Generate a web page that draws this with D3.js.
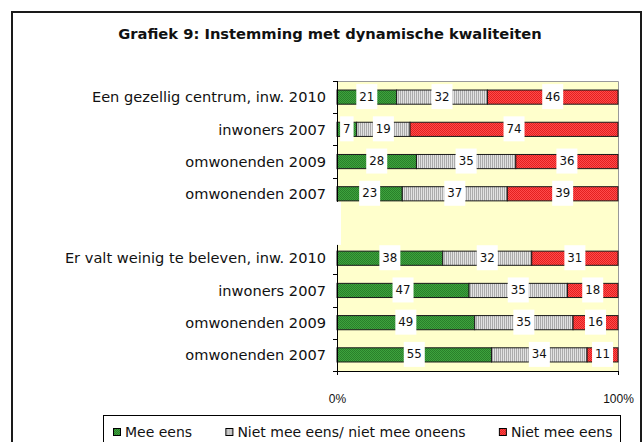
<!DOCTYPE html>
<html>
<head>
<meta charset="utf-8">
<script src="https://cdn.jsdelivr.net/npm/d3@7"></script>
<style>
  html, body { margin: 0; padding: 0; background: #fff; }
  svg { display: block; }
</style>
</head>
<body>
<svg id="chart" width="644" height="442"></svg>
<script>
const categories = [
  "Een gezellig centrum, inw. 2010",
  "inwoners 2007",
  "omwonenden 2009",
  "omwonenden 2007",
  "",
  "Er valt weinig te beleven, inw. 2010",
  "inwoners 2007",
  "omwonenden 2009",
  "omwonenden 2007"
];
const meeEens     = [21, 7, 28, 23, null, 38, 47, 49, 55];
const neutraal    = [32, 19, 35, 37, null, 32, 35, 35, 34];
const nietMeeEens = [46, 74, 36, 39, null, 31, 18, 16, 11];

const seriesNames = ["Mee eens", "Niet mee eens/ niet mee oneens", "Niet mee eens"];
const xTicks = [0, 1];

const width = 644;
const height = 442;
const plot = { left: 337, right: 618, top: 81, bottom: 371 };

const svg = d3.select("#chart");

// patterns for the hatched fills
const defs = svg.append("defs");
const pGreen = defs.append("pattern").attr("id", "pGreen")
  .attr("width", 2).attr("height", 2).attr("patternUnits", "userSpaceOnUse");
pGreen.append("rect").attr("width", 2).attr("height", 2).attr("fill", "#3da33d");
pGreen.append("rect").attr("width", 1).attr("height", 1).attr("fill", "#2a7f2a");
pGreen.append("rect").attr("x", 1).attr("y", 1).attr("width", 1).attr("height", 1).attr("fill", "#2a7f2a");

const pGray = defs.append("pattern").attr("id", "pGray")
  .attr("width", 2).attr("height", 2).attr("patternUnits", "userSpaceOnUse");
pGray.append("rect").attr("width", 2).attr("height", 2).attr("fill", "#e2e2e2");
pGray.append("rect").attr("width", 1).attr("height", 2).attr("fill", "#ababab");

const pRed = defs.append("pattern").attr("id", "pRed")
  .attr("width", 2).attr("height", 2).attr("patternUnits", "userSpaceOnUse");
pRed.append("rect").attr("width", 2).attr("height", 2).attr("fill", "#ff4a4a");
pRed.append("rect").attr("width", 1).attr("height", 1).attr("fill", "#e32020");
pRed.append("rect").attr("x", 1).attr("y", 1).attr("width", 1).attr("height", 1).attr("fill", "#e32020");

const fills = ["url(#pGreen)", "url(#pGray)", "url(#pRed)"];

// outer frame
svg.append("rect")
  .attr("x", 12).attr("y", 12).attr("width", 629).attr("height", 460)
  .attr("fill", "#fff").attr("stroke", "#1a1a1a").attr("stroke-width", 2);

// title
svg.append("text")
  .attr("x", 330).attr("y", 39)
  .attr("text-anchor", "middle")
  .attr("font-family", "DejaVu Sans").attr("font-weight", "bold")
  .attr("font-size", 14.7).attr("fill", "#111")
  .text("Grafiek 9: Instemming met dynamische kwaliteiten");

const idx = categories.map((_, i) => i);
const y = d3.scaleBand().domain(idx)
  .range([plot.top, plot.bottom])
  .paddingInner(0.56).paddingOuter(0.28);
const x = d3.scaleLinear().domain([0, 1]).range([plot.left, plot.right]);

// plot background
svg.append("rect")
  .attr("x", plot.left).attr("y", plot.top)
  .attr("width", plot.right - plot.left).attr("height", plot.bottom - plot.top)
  .attr("fill", "#ffffcc");
svg.append("path")
  .attr("d", `M${plot.left},${plot.top + 0.5}H${plot.right + 0.5}V${plot.bottom}`)
  .attr("fill", "none").attr("stroke", "#999").attr("stroke-width", 1);

const rows = idx.map(i => ({ i, a: meeEens[i], b: neutraal[i], c: nietMeeEens[i] }))
  .filter(d => d.a != null);
const stack = d3.stack().keys(["a", "b", "c"]).offset(d3.stackOffsetExpand);
const stacked = stack(rows);

const step = y.step();
svg.append("g").selectAll("g")
  .data(stacked)
  .join("g")
  .attr("fill", (d, k) => fills[k])
  .selectAll("rect")
  .data(d => d)
  .join("rect")
  .attr("x", d => x(d[0]))
  .attr("y", d => y(d.data.i))
  .attr("width", d => x(d[1]) - x(d[0]))
  .attr("height", y.bandwidth())
  .attr("stroke", "#1a1a1a").attr("stroke-width", 1);

// axes
const yAxis = svg.append("g")
  .attr("transform", `translate(${plot.left},0)`);
yAxis.append("line")
  .attr("x1", 0.5).attr("x2", 0.5).attr("y1", plot.top).attr("y2", plot.bottom + 4)
  .attr("stroke", "#000");
yAxis.selectAll("line.tick")
  .data(d3.range(categories.length + 1))
  .join("line").attr("class", "tick")
  .attr("x1", -4).attr("x2", 0.5)
  .attr("y1", k => Math.round(plot.top + k * step) + 0.5)
  .attr("y2", k => Math.round(plot.top + k * step) + 0.5)
  .attr("stroke", "#000");

svg.append("g").selectAll("text")
  .data(idx)
  .join("text")
  .attr("x", 326)
  .attr("y", i => y(i) + y.bandwidth() / 2)
  .attr("dy", "0.36em")
  .attr("text-anchor", "end")
  .attr("font-family", "DejaVu Sans").attr("font-size", 14.6).attr("fill", "#111")
  .text(i => categories[i]);

const xAxis = svg.append("g")
  .attr("transform", `translate(0,${plot.bottom})`)
  .call(d3.axisBottom(x).tickValues(xTicks).tickFormat(d3.format(".0%")).tickSize(4).tickPadding(19));
xAxis.select(".domain").attr("stroke", "#000");
xAxis.selectAll("text")
  .attr("font-family", "Liberation Sans").attr("font-size", 12).attr("fill", "#111");

// value labels with white boxes
const labelG = svg.append("g");
stacked.forEach(s => {
  s.forEach(d => {
    const raw = d.data[s.key];
    const cx = x((d[0] + d[1]) / 2);
    const cy = y(d.data.i) + y.bandwidth() / 2;
    const g = labelG.append("g");
    const box = g.append("rect").attr("fill", "#fff");
    const t = g.append("text")
      .attr("x", cx).attr("y", cy).attr("dy", "0.3em")
      .attr("text-anchor", "middle")
      .attr("font-family", "DejaVu Sans").attr("font-size", 11.8).attr("fill", "#111")
      .text(raw);
    const w = t.node().getComputedTextLength() + 6;
    box.attr("x", cx - w / 2).attr("y", cy - 13).attr("width", w).attr("height", 25);
  });
});
// empty row leaves a blank label box on the axis
labelG.append("rect")
  .attr("x", plot.left - 4).attr("y", y(4) - 17)
  .attr("width", 8).attr("height", 43).attr("fill", "#fff");

// legend
const legend = svg.append("g");
legend.append("rect")
  .attr("x", 103.5).attr("y", 415.5).attr("width", 517).attr("height", 40)
  .attr("fill", "#fff").attr("stroke", "#000");
const items = legend.selectAll("g.item")
  .data(seriesNames)
  .join("g").attr("class", "item");
items.append("rect")
  .attr("x", 0.5).attr("y", 428.5).attr("width", 7).attr("height", 7)
  .attr("fill", (d, k) => fills[k]).attr("stroke", "#000");
items.append("text")
  .attr("x", 12).attr("y", 437)
  .attr("font-family", "DejaVu Sans").attr("font-size", 14).attr("fill", "#111")
  .text(d => d);
const widths = items.nodes().map(n => n.getBBox().width);
const total = d3.sum(widths);
const gap = (612 - 113 - total) / (seriesNames.length - 1);
let pos = 113;
items.each(function(d, k) {
  d3.select(this).attr("transform", `translate(${pos},0)`);
  pos += widths[k] + gap;
});
</script>
</body>
</html>
